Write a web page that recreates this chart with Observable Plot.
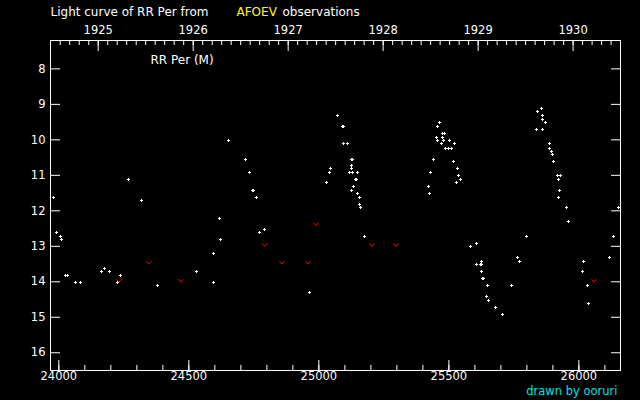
<!DOCTYPE html>
<html><head><meta charset="utf-8">
<script src="https://cdn.jsdelivr.net/npm/d3@7"></script>
<script src="https://cdn.jsdelivr.net/npm/@observablehq/plot@0.6"></script>
<style>html,body{margin:0;padding:0;background:#000;overflow:hidden;}</style>
</head><body><div id="chart"></div>
<script>
// Visual observations: JD - 2400000 and magnitude
const visJD = [23981,23992,24008,24012,24027,24035,24065,24085,24165,24177,24196,24227,24238,24269,24319,24381,24531,
  24596,24596,24619,24623,24654,24719,24735,24746,24749,24761,24773,24792,24965,
  25031,25042,25046,25073,25092,25096,25096,25111,25124,25128,25127,25127,25119,25128,25150,25139,25143,25135,25127,25150,25158,25158,25161,25177,
  25423,25427,25431,25442,25454,25458,25458,25465,25473,25477,25485,25477,25481,25488,25500,25504,25511,25519,25523,25531,25535,25538,25546,
  25585,25608,25608,25621,25625,25627,25627,25629,25633,25650,25646,25654,25681,25708,25742,25765,25773,25800,
  25838,25842,25858,25861,25861,25861,25873,25888,25888,25896,25900,25904,25919,25931,25923,25927,25923,25954,25961,
  26015,26019,26035,26038,26119,26135,26154];
const visMag = [11.63,12.62,12.73,12.82,13.83,13.83,14.03,14.03,13.72,13.63,13.72,14.03,13.83,11.13,11.72,14.11,13.72,
  13.21,14.03,12.23,12.82,10.03,10.54,10.93,11.44,11.44,11.63,12.62,12.54,14.31,
  11.21,10.93,10.82,9.32,9.63,9.63,10.11,10.11,10.54,10.54,10.73,10.82,10.93,10.93,10.93,11.13,11.13,11.32,11.44,11.52,11.63,11.83,11.92,12.73,
  11.32,11.52,10.93,10.54,9.92,9.63,10.03,9.52,10.11,9.83,9.83,9.92,10.03,10.23,10.23,10.03,10.23,10.62,10.11,11.21,10.82,11.01,11.13,
  13.01,12.93,13.52,13.52,13.52,13.44,13.72,13.92,13.92,14.11,14.42,14.54,14.73,14.93,14.11,13.32,13.44,12.73,
  9.72,9.21,9.13,9.32,9.44,9.72,9.52,10.11,10.23,10.34,10.42,10.62,11.01,11.01,11.13,11.44,11.63,11.92,12.31,
  13.72,13.44,14.11,14.62,13.32,12.73,11.92];
// "Fainter than" observations
const limJD = [24231,24346,24469,24792,24858,24958,24988,25204,25296,26058];
const limMag = [13.97,13.46,13.97,12.96,13.46,13.46,12.37,12.96,12.96,13.97];

const xTicks = [24000,24500,25000,25500,26000];
const yTicks = [8,9,10,11,12,13,14,15,16];
const yearLabels = [1925,1926,1927,1928,1929,1930];
const titleText = "Light curve of RR Per from";
const sourceText = "AFOEV";
const titleEnd = "observations";
const starLabel = "RR Per (M)";
const credit = "drawn by ooruri";

const xDomain = [23968, 26160];
const jdOfYear = y => 24151.5 + (y - 1925) * 365.25;
const minorYears = d3.range(19246, 19306).map(v => v / 10).filter(y => {
  const j = jdOfYear(y); return j > xDomain[0] && j < xDomain[1];
});

const vis = visJD.map((x, i) => ({jd: x, mag: visMag[i]}));
const lim = limJD.map((x, i) => ({jd: x, mag: limMag[i]}));

const plusSymbol = {draw(ctx) { ctx.moveTo(-1.5, 0); ctx.lineTo(1.5, 0); ctx.moveTo(0, -1.5); ctx.lineTo(0, 1.5); }};
const vSymbol = {draw(ctx) { ctx.moveTo(-2.5, -1.5); ctx.lineTo(0, 1.5); ctx.lineTo(2.5, -1.5); }};

const chart = Plot.plot({
  width: 640, height: 400,
  marginLeft: 50, marginRight: 20, marginTop: 40, marginBottom: 30,
  style: {background: "#000", color: "#fff", fontFamily: "DejaVu Sans", fontSize: "12px"},
  x: {domain: xDomain, label: null},
  y: {domain: [16.5, 7.2], label: null},
  marks: [
    Plot.frame({stroke: "#fff"}),
    Plot.axisX({anchor: "bottom", ticks: d3.range(24000, 26160, 100), tickSize: -5, fill: "none", label: null}),
    Plot.axisX({anchor: "bottom", ticks: xTicks, tickSize: -10, fill: "none", label: null}),
    Plot.axisX({anchor: "bottom", ticks: xTicks, tickSize: 0, tickPadding: 1, tickFormat: d3.format("d"), fontSize: 11.5, label: null}),
    Plot.axisX({anchor: "top", ticks: minorYears.map(jdOfYear), tickSize: -4, fill: "none", label: null}),
    Plot.axisX({anchor: "top", ticks: yearLabels.map(jdOfYear), tickSize: -10, fill: "none", label: null}),
    Plot.text(yearLabels, {x: jdOfYear, text: d => String(d), frameAnchor: "top", lineAnchor: "bottom", dy: -7, fontSize: 11.5, fill: "#fff"}),
    Plot.axisY({anchor: "left", ticks: yTicks, tickSize: -10, fill: "none", label: null}),
    Plot.axisY({anchor: "left", ticks: yTicks, tickSize: 0, tickPadding: 5, fontSize: 11.5, label: null}),
    Plot.axisY({anchor: "right", ticks: yTicks, tickSize: -10, fill: "none", label: null}),
    Plot.dot(vis, {x: "jd", y: "mag", symbol: plusSymbol, fill: "none", stroke: "#fff", strokeWidth: 1, shapeRendering: "crispEdges"}),
    Plot.dot(lim, {x: "jd", y: "mag", symbol: vSymbol, fill: "none", stroke: "#ff0000", strokeWidth: 1}),
    Plot.text([titleText], {frameAnchor: "top-left", dy: -28, textAnchor: "start", lineAnchor: "middle", fill: "#fff"}),
    Plot.text([sourceText], {frameAnchor: "top-left", dx: 186, dy: -28, textAnchor: "start", lineAnchor: "middle", fill: "#ffff00"}),
    Plot.text([titleEnd], {frameAnchor: "top-left", dx: 232, dy: -28, textAnchor: "start", lineAnchor: "middle", fill: "#fff"}),
    Plot.text([starLabel], {frameAnchor: "top-left", dx: 100, dy: 20, textAnchor: "start", lineAnchor: "middle", fill: "#fff"}),
    Plot.text([credit], {frameAnchor: "bottom-right", dx: -3, dy: 21, textAnchor: "end", lineAnchor: "middle", fontSize: 11.5, fill: "#00e0e0"})
  ]
});
document.getElementById("chart").appendChild(chart);
</script>
</body></html>
